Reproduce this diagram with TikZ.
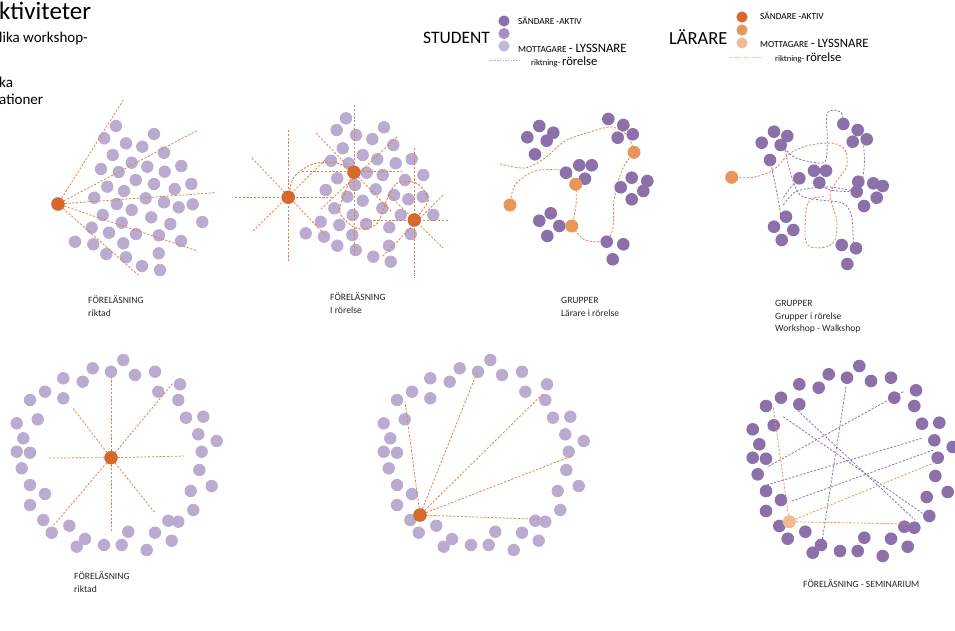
\documentclass[tikz,border=0pt]{standalone}
\usepackage{fontspec}
\setmainfont{Carlito}
\definecolor{lav}{RGB}{186,171,208}
\definecolor{purp}{RGB}{139,112,170}
\definecolor{purmid}{RGB}{165,145,192}
\definecolor{orD}{RGB}{217,105,42}
\definecolor{orM}{RGB}{232,150,90}
\definecolor{orL}{RGB}{239,187,148}
\definecolor{ordash}{RGB}{222,132,72}
\definecolor{pudash}{RGB}{140,115,172}
\begin{document}
\begin{tikzpicture}[x=1pt,y=-1pt]
\useasboundingbox (0,0) rectangle (955,630);
\tikzset{
 lbl/.style={font=\fontsize{9.6}{11}\selectfont, anchor=base west, inner sep=0, text=black!85},
 odash/.style={draw=ordash, line width=0.8pt, dash pattern=on 2.2pt off 1.6pt},
 pdash/.style={draw=pudash, line width=0.8pt, dash pattern=on 2.2pt off 1.6pt},
 tdark/.style={circle, fill=orD, draw=orD!85!black, line width=0.3pt, minimum size=13pt, inner sep=0},
 tmid/.style={circle, fill=orM, minimum size=13pt, inner sep=0},
 tlight/.style={circle, fill=orL, minimum size=13pt, inner sep=0},
}
% ---------- title texts ----------
\node[anchor=base west, inner sep=0, font=\fontsize{25}{28}\selectfont] (t1) at (-1,19) {ktiviteter};
\node[anchor=base west, inner sep=0, font=\fontsize{15}{17}\selectfont] (t2) at (-1,42) {lika workshop-};
\node[anchor=base west, inner sep=0, font=\fontsize{15}{17}\selectfont] (t3) at (-1,87) {ka};
\node[anchor=base west, inner sep=0, font=\fontsize{15}{17}\selectfont] (t4) at (-1,104) {ationer};
% ---------- legend student ----------
\node[anchor=base west, inner sep=0, font=\fontsize{17.5}{20}\selectfont] (ls) at (423,43) {STUDENT};
\fill[purp] (504,21) circle (5.6);
\fill[purmid] (504,33.5) circle (5.6);
\fill[lav!85] (504,46) circle (5.6);
\node[anchor=base west, inner sep=0, font=\fontsize{9.3}{10}\selectfont] (ls1) at (518,24.5) {SÄNDARE -AKTIV};
\node[anchor=base west, inner sep=0] (ls2) at (518,52) {\fontsize{9.3}{10}\selectfont MOTTAGARE \fontsize{12.8}{15}\selectfont - LYSSNARE};
\node[anchor=base west, inner sep=0] (ls3) at (531,65) {\fontsize{8.5}{10}\selectfont riktning- \fontsize{12.5}{15}\selectfont rörelse};
\draw[draw=lav, line width=0.8pt, dash pattern=on 1.5pt off 1.2pt] (489,60) -- (520,60);
% ---------- legend teacher ----------
\node[anchor=base west, inner sep=0, font=\fontsize{18.5}{21}\selectfont] (lt) at (669,44) {LÄRARE};
\fill[orD] (742,17) circle (5.6);
\fill[orM] (742,30) circle (5.6);
\fill[orL] (742,43) circle (5.6);
\node[anchor=base west, inner sep=0, font=\fontsize{9.3}{10}\selectfont] (lt1) at (760,19.5) {SÄNDARE -AKTIV};
\node[anchor=base west, inner sep=0] (lt2) at (760,47) {\fontsize{9.3}{10}\selectfont MOTTAGARE \fontsize{12.8}{15}\selectfont - LYSSNARE};
\node[anchor=base west, inner sep=0] (lt3) at (775,61) {\fontsize{8.5}{10}\selectfont riktning- \fontsize{12.5}{15}\selectfont rörelse};
\draw[draw=orL, line width=0.8pt, dash pattern=on 1.5pt off 1.2pt] (730,57) -- (761,57);
% ---------- panel 1 ----------
\foreach \x/\y in {116/126,104.3/138.3,154/134,126/143.3,142.3/146.7,112.7/155,164/152.7,131.7/162.7,147.3/166.7,101/169,118.7/172,164.7/171.7,181.3/166,107.3/186.7,135.7/180,154/184,191.3/184,124/191,174.7/189,94.3/197.7,145.7/198.3,116.7/204,164/202.3,178.7/207.3,192.7/204.3,131.7/210,102.7/215,151.3/217.3,121.7/222.7,170.3/224,202.3/222,91.7/227.7,109/232.7,136/234,159/235.3,181/241,75/241.7,93.3/244.3,123.3/243.3,106.3/254,126/257.3,158.7/253.3,142/266,160/270}
  \fill[lav] (\x,\y) circle (6.2);
\node[tdark] (p1o) at (58,204) {};
\foreach \x/\y [count=\i] in {123.3/100,196.7/130.7,215/192.7,196.7/250.7,138.3/275}
  {\coordinate (p1e\i) at (\x,\y); \draw[odash] (p1o) -- (p1e\i);}
\node[lbl] (l1a) at (88,303) {FÖRELÄSNING};
\node[lbl] (l1b) at (88,316) {riktad};
% ---------- panel 2 ----------
\foreach \x/\y in {346/118.3,384/127.3,336.7/130,356/135,372.3/139,393.3/145,342.7/148.3,362.7/155,377.3/159.3,331/160.7,348.7/163.3,395.7/163.3,411.7/159,366.7/172.7,382.7/175,423.3/175,337.3/178.3,355/185,375.7/189.3,405/180,325.7/190,347.3/196.7,362.7/200.7,394/195,408.3/199.3,422.7/196.7,334.3/208.3,382.3/208.3,400.7/215,433.3/215,352.7/215,320.7/221.7,339.3/225,366/224,389.3/227.3,305.7/233.3,324/236.7,352.3/235,410.7/234,337.3/245.7,355.7/250,389/245.7,373.3/256.7,390.7/261.7}
  \fill[lav] (\x,\y) circle (6.2);
\coordinate (a1) at (288.3,197.3);
\coordinate (b1) at (354,172.3);
\coordinate (c1) at (414.3,220);
% rays
\draw[odash] (235,197.3) -- (332,197.3);
\draw[odash] (288.3,130) -- (288.3,262);
\draw[odash] (252,158) -- (326,236);
\draw[odash] (325,160) -- (252,232);
\draw[odash] (302,171) -- (402,171);
\draw[odash] (354,105) -- (354,257);
\draw[odash] (316,133) -- (392,212);
\draw[odash] (397,137) -- (320,210);
\draw[odash] (362,220) -- (448,220);
\draw[odash] (414.3,148) -- (414.3,278);
\draw[odash] (443,195) -- (382,257);
\draw[odash] (388,194) -- (443,248);
\draw[odash, line width=1pt] plot[smooth] coordinates {(288.3,197.3) (294,177) (313,164) (337,163) (354,172.3)};
\draw[odash, line width=1pt] plot[smooth] coordinates {(354,172.3) (345,192) (340,213) (356.7,228.3) (376.7,224) (386.7,200) (396.7,183.3) (416.7,183.3) (428.3,200) (414.3,220)};
\node[tdark] (p2a) at (a1) {};
\node[tdark] (p2b) at (b1) {};
\node[tdark] (p2c) at (c1) {};
\node[lbl] (l2a) at (330,300) {FÖRELÄSNING};
\node[lbl] (l2b) at (330,313) {I rörelse};
% ---------- panel 3 ----------
\draw[odash] plot[smooth] coordinates {(500,164) (525,168) (545,158) (565,141) (590,132) (612,127) (628,136) (634,152)};
\draw[odash] plot[smooth] coordinates {(634,152) (622,170) (614,200) (613,228) (607,242)};
\draw[odash] plot[smooth] coordinates {(607,242) (585,240) (572,226)};
\draw[odash] plot[smooth] coordinates {(572,226) (576,205) (576,184)};
\draw[odash] plot[smooth] coordinates {(576,184) (565,171) (535,171) (515,185) (510,205)};
\foreach \x/\y in {539.3/126,553.3/132.7,527.3/137.3,546.7/140.7,535/154.3,
  608.3/119,623.3/125,632.7/134.3,617.7/137.7,
  566/172.7,579.3/165.3,591.7/165.3,585/178.7,
  631.7/177.7,647.3/181,620.7/187.3,643.3/191,631.7/199.3,
  550.7/213.3,539.3/220.7,559.3/226,547.3/236,
  606.7/241.7,623.3/244.3,612.7/259.3}
  \fill[purp] (\x,\y) circle (6.3);
\node[tmid] (p3a) at (575.7,184.3) {};
\node[tmid] (p3b) at (571.7,226) {};
\node[tmid] (p3c) at (510,205) {};
\node[tmid] (p3d) at (634,152.3) {};
\node[lbl] (l3a) at (561,303) {GRUPPER};
\node[lbl] (l3b) at (561,316) {Lärare i rörelse};
% ---------- panel 4 ----------
\draw[pdash] plot[smooth] coordinates {(781.7,145) (793.3,156.7) (810,161.7) (825,161.7) (827.3,140) (826.7,115) (833.3,110) (841.7,113.3) (843.3,124)};
\draw[pdash] plot[smooth] coordinates {(863.3,141.7) (864.5,160) (863,176.7) (860,183.3)};
\draw[pdash] plot[smooth] coordinates {(770,160) (775,183.3) (778.3,200) (780.7,215)};
\draw[pdash] plot[smooth] coordinates {(799.3,178.3) (790,188.3) (783.3,198)};
\draw[pdash] plot[smooth] coordinates {(819.3,182.7) (830,190) (853.3,191.7)};
\draw[pdash] plot[smooth] coordinates {(785,150) (791.7,176.7) (800,195) (820,200) (843.3,203.3) (851.7,216.7) (853.3,246.7)};
\draw[pdash] plot[smooth] coordinates {(783.3,205) (795,192) (812,188) (830,187) (858,191.7)};
\draw[odash] plot[smooth] coordinates {(731.7,177.3) (753.3,177.3) (773.3,170) (790,153.3) (810,145) (833.3,143.3) (845,150) (846.7,166.7) (835,183.3) (830,196.7) (836.7,220) (835,240) (825,247.3) (810,246.7) (805,236.7) (806.7,206.7) (813.3,198.3) (825,196.7)};
\foreach \x/\y in {774/131.7,787.3/136,761.7/142.7,780.7/145,770/160,
  843.3/124,857.7/130,852.7/141.7,866.7/139.3,
  814/170.7,826/170.7,799.3/178.3,819.3/182.7,
  858.3/181.7,873.3/183.3,882.7/186,856.7/191.7,876.7/197.7,864/206,
  786/216.7,774/226.7,793.3/230,781.7/240,
  841.7/245,856/248.3,847.3/264}
  \fill[purp] (\x,\y) circle (6.3);
\node[tmid] (p4o) at (731.7,177.3) {};
\node[lbl] (l4a) at (775,306) {GRUPPER};
\node[lbl] (l4b) at (775,319) {Grupper i rörelse};
\node[lbl] (l4c) at (775,331) {Workshop - Walkshop};
% ---------- ring layout ----------
\def\ring{123.3/360,92.7/368.3,111/371.7,135/375,155/371.7,63.3/378.3,82.7/381.7,180/384.3,45/391.7,158.3/391.7,30/400,63.3/398.3,178.3/400,37.7/419.3,186/417.7,203.3/416.7,16.7/423.3,198.3/434.3,23.3/438.3,216.7/441,16.7/451.7,30/452.7,201.7/451.7,21.7/468.3,199.3/470,30/485,211.7/486,45/494,190.7/491,30/505,193.3/510,43.3/520,168.3/520.7,178.3/521.7,69.3/525.7,51.7/532.7,128.3/531.7,155/532.7,85/539,76.7/546.7,104/545,121.7/545,171.7/540.7,146.7/550}
% ---------- panel 5 ----------
\foreach \x/\y in \ring \fill[lav] (\x,\y) circle (6.2);
\node[tdark] (p5o) at (111,457.7) {};
\foreach \x/\y [count=\i] in {111/378,111/532,48/458,186/456,173/383,53/526,72/407,155/513}
  {\coordinate (p5e\i) at (\x,\y); \draw[odash] (p5o) -- (p5e\i);}
\node[lbl] (l5a) at (74,579) {FÖRELÄSNING};
\node[lbl] (l5b) at (74,592) {riktad};
% ---------- panel 6 ----------
\begin{scope}[shift={(367,0)}]
\foreach \x/\y in \ring \fill[lav] (\x,\y) circle (6.2);
\end{scope}
\node[tdark] (p6o) at (420,515) {};
\foreach \x/\y [count=\i] in {476.7/373.3,543.3/393.3,405/401.7,571.7/456,540/519.3}
  {\coordinate (p6e\i) at (\x,\y); \draw[odash] (p6o) -- (p6e\i);}
% ---------- panel 7 ----------
\begin{scope}[shift={(736,6)}]
\foreach \x/\y in \ring \fill[purp] (\x,\y) circle (6.3);
\end{scope}
\draw[pdash] (846,386.7) -- (821.7,543.3);
\draw[pdash] (903.3,391.7) -- (766.7,467.3);
\draw[pdash] (783.3,416.7) -- (925,515);
\draw[pdash] (795,408) -- (915,520);
\draw[pdash] (921.7,438.3) -- (766.7,485);
\draw[pdash] (933.3,450) -- (790,501.7);
\node[tlight] (p7o) at (789.3,521.7) {};
\foreach \x/\y [count=\i] in {773.3/407.3,936.7/461.7,911/524}
  {\coordinate (p7e\i) at (\x,\y); \draw[odash, draw=orM] (p7o) -- (p7e\i);}
\node[lbl] (l7) at (803,587) {FÖRELÄSNING - SEMINARIUM};
\end{tikzpicture}
\end{document}
